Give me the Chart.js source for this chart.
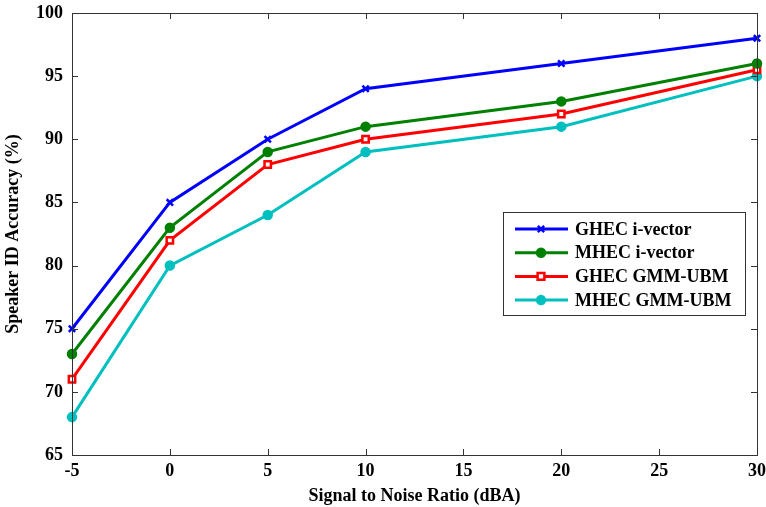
<!DOCTYPE html>
<html><head><meta charset="utf-8">
<script src="https://cdn.jsdelivr.net/npm/chart.js@4/dist/chart.umd.min.js"></script>
<style>html,body{margin:0;padding:0;background:#fff}#wrap{width:766px;height:507px}</style>
</head><body><div id="wrap"><canvas id="c" width="766" height="507"></canvas></div>
<script>
const snr = [-5, 0, 5, 10, 20, 30];
const ghecIvector = [75, 85, 90, 94, 96, 98];
const mhecIvector = [73, 83, 89, 91, 93, 96];
const ghecGmmUbm = [71, 82, 88, 90, 92, 95.5];
const mhecGmmUbm = [68, 80, 84, 89, 91, 95];
const seriesNames = ['GHEC i-vector', 'MHEC i-vector', 'GHEC GMM-UBM', 'MHEC GMM-UBM'];
const xTitle = 'Signal to Noise Ratio (dBA)';
const yTitle = 'Speaker ID Accuracy (%)';

const FONT = '"Liberation Serif", "Times New Roman", serif';
const pts = arr => arr.map((v, i) => ({x: snr[i], y: v}));

const styles = [
  {color: '#0000ff', pointStyle: 'crossRot', radius: 4.5, fill: '#0000ff'},
  {color: '#008000', pointStyle: 'circle', radius: 4, fill: '#008000'},
  {color: '#ff0000', pointStyle: 'rect', radius: 4.5, fill: '#ffffff'},
  {color: '#00bfbf', pointStyle: 'circle', radius: 4, fill: '#00bfbf'}
];
const allData = [ghecIvector, mhecIvector, ghecGmmUbm, mhecGmmUbm];

const datasets = allData.map((d, i) => ({
  label: seriesNames[i],
  data: pts(d),
  borderColor: styles[i].color,
  backgroundColor: styles[i].fill,
  pointStyle: styles[i].pointStyle,
  pointRadius: styles[i].radius,
  pointBorderColor: styles[i].color,
  pointBackgroundColor: styles[i].fill,
  pointBorderWidth: 2.5,
  borderWidth: 3,
  tension: 0,
  clip: false
}));

const framePlugin = {
  id: 'frame',
  afterDatasetsDraw(chart) {
    const {ctx, chartArea: a, scales} = chart;
    ctx.save();
    ctx.strokeStyle = '#333';
    ctx.lineWidth = 1;
    ctx.strokeRect(a.left + 0.5, a.top + 0.5, a.right - a.left, a.bottom - a.top);
    const L = 6;
    ctx.beginPath();
    scales.x.ticks.forEach(t => {
      const px = Math.round(scales.x.getPixelForValue(t.value)) + 0.5;
      ctx.moveTo(px, a.bottom); ctx.lineTo(px, a.bottom - L);
      ctx.moveTo(px, a.top); ctx.lineTo(px, a.top + L);
    });
    scales.y.ticks.forEach(t => {
      const py = Math.round(scales.y.getPixelForValue(t.value)) + 0.5;
      ctx.moveTo(a.left, py); ctx.lineTo(a.left + L, py);
      ctx.moveTo(a.right, py); ctx.lineTo(a.right - L, py);
    });
    ctx.stroke();
    ctx.restore();
  },
  afterDraw(chart) {
    const {ctx} = chart;
    const bx = 503, by = 212, bw = 242, bh = 103;
    ctx.save();
    ctx.fillStyle = '#fff';
    ctx.fillRect(bx, by, bw, bh);
    ctx.strokeStyle = '#333';
    ctx.lineWidth = 1;
    ctx.strokeRect(bx + 0.5, by + 0.5, bw, bh);
    ctx.font = 'bold 18px ' + FONT;
    ctx.textBaseline = 'middle';
    chart.data.datasets.forEach((ds, i) => {
      const y = by + 17 + i * 23.7;
      ctx.strokeStyle = ds.borderColor;
      ctx.lineWidth = 3;
      ctx.beginPath(); ctx.moveTo(515, y); ctx.lineTo(568, y); ctx.stroke();
      ctx.fillStyle = ds.pointBackgroundColor;
      ctx.strokeStyle = ds.pointBorderColor;
      ctx.lineWidth = ds.pointBorderWidth;
      ctx.beginPath();
      if (ds.pointStyle === 'circle') { ctx.arc(541, y, ds.pointRadius, 0, Math.PI * 2); ctx.fill(); ctx.stroke(); }
      else if (ds.pointStyle === 'rect') { const r = ds.pointRadius * 0.75; ctx.rect(541 - r, y - r, 2 * r, 2 * r); ctx.fill(); ctx.stroke(); }
      else { const r = ds.pointRadius * 0.7; ctx.moveTo(541 - r, y - r); ctx.lineTo(541 + r, y + r); ctx.moveTo(541 + r, y - r); ctx.lineTo(541 - r, y + r); ctx.stroke(); }
      ctx.fillStyle = '#000';
      ctx.fillText(ds.label, 575, y + 1);
    });
    ctx.restore();
  }
};

new Chart(document.getElementById('c'), {
  type: 'line',
  data: {datasets},
  options: {
    responsive: false,
    animation: false,
    devicePixelRatio: 1,
    layout: {padding: {top: 13, right: 9, left: 0, bottom: 0}},
    plugins: {legend: {display: false}, tooltip: {enabled: false}},
    scales: {
      x: {
        type: 'linear', min: -5, max: 30,
        ticks: {stepSize: 5, color: '#000', padding: 6, font: {family: FONT, size: 18, weight: 'bold'}, maxRotation: 0},
        grid: {display: false, drawTicks: false},
        border: {display: false},
        title: {display: true, text: xTitle, color: '#000', font: {family: FONT, size: 18, weight: 'bold'}, padding: {top: 6, bottom: 0}},
        afterFit(s) { s.height = 52; s.paddingLeft = 0; s.paddingRight = 0; }
      },
      y: {
        min: 65, max: 100,
        ticks: {stepSize: 5, color: '#000', padding: 9, font: {family: FONT, size: 18, weight: 'bold'}},
        grid: {display: false, drawTicks: false},
        border: {display: false},
        title: {display: true, text: yTitle, color: '#000', font: {family: FONT, size: 18, weight: 'bold'}, padding: {top: 3, bottom: 0}},
        afterFit(s) { s.width = 72; s.paddingTop = 0; s.paddingBottom = 0; }
      }
    }
  },
  plugins: [framePlugin]
});
</script>
</body></html>
